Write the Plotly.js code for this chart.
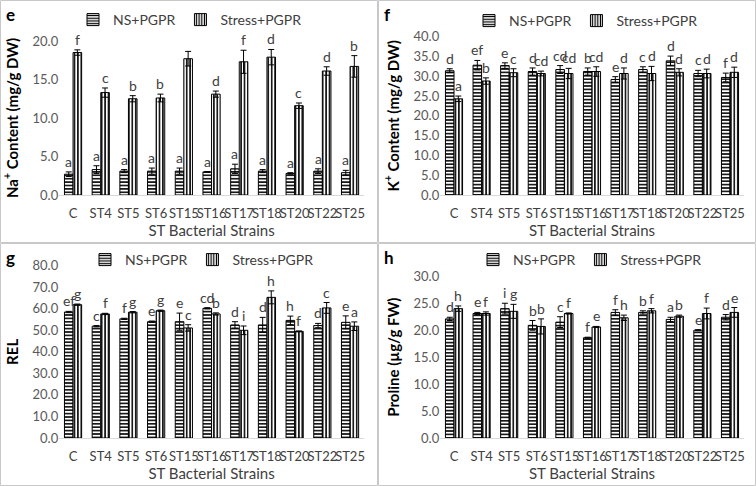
<!DOCTYPE html>
<html>
<head>
<meta charset="utf-8">
<script src="https://cdn.plot.ly/plotly-3.0.1.min.js"></script>
<style>html,body{margin:0;padding:0;background:#fff;}#chart{width:756px;height:486px;}</style>
</head>
<body>
<div id="chart"></div>
<script>
const cats = ['C','ST4','ST5','ST6','ST15','ST16','ST17','ST18','ST20','ST22','ST25'];
const seriesNames = ['NS+PGPR','Stress+PGPR'];

// Panel e: Na+ content
const naNS = [2.7,3.3,3.1,3.1,3.1,3.0,3.4,3.1,2.8,3.1,2.9];
const naNSErr = [0.3,0.5,0.2,0.4,0.4,0.05,0.6,0.2,0.1,0.3,0.3];
const naST = [18.5,13.3,12.5,12.6,17.7,13.1,17.3,17.9,11.6,16.1,16.7];
const naSTErr = [0.35,0.6,0.4,0.5,0.95,0.4,1.5,1.0,0.35,0.55,1.4];
const naNSLetters = ['a','a','a','a','a','a','a','a','a','a','a'];
const naSTLetters = ['f','c','b','b','','d','f','d','c','d','b'];

// Panel f: K+ content
const kNS = [31.4,32.8,32.7,31.2,31.7,31.2,29.2,31.7,33.9,30.7,29.7];
const kNSErr = [0.5,1.2,0.7,0.9,1.0,0.9,0.7,0.7,1.2,0.8,1.1];
const kST = [24.3,28.8,30.9,30.7,30.7,31.2,30.7,30.7,31.0,30.7,31.0];
const kSTErr = [0.7,0.8,1.0,0.6,1.3,1.2,1.4,1.8,0.9,1.1,1.3];
const kNSLetters = ['d','ef','e','d','cd','b','e','c','d','c','f'];
const kSTLetters = ['a','b','c','cd','cd','cd','d','d','d','d','d'];

// Panel g: REL
const relNS = [58.5,51.9,55.3,54.0,54.0,60.2,52.5,52.5,54.6,52.2,53.7];
const relNSErr = [0.3,0.3,0.3,0.3,4.0,0.3,1.5,3.5,2.0,1.0,3.0];
const relST = [61.9,57.6,58.4,59.1,51.1,57.6,50.0,65.3,49.5,60.4,51.9];
const relSTErr = [0.3,0.3,0.3,0.3,1.5,0.5,2.0,3.0,0.2,2.5,2.0];
const relNSLetters = ['ef','c','f','e','e','cd','d','d','h','d','e'];
const relSTLetters = ['g','f','g','g','c','b','i','h','f','c','a'];

// Panel h: Proline
const proNS = [22.1,23.1,24.0,20.9,21.5,18.6,23.3,23.3,22.0,20.0,22.4];
const proNSErr = [0.3,0.2,1.0,0.9,1.0,0.1,0.5,0.3,0.4,0.1,0.5];
const proST = [24.0,23.1,23.5,20.7,23.1,20.6,22.3,23.6,22.6,23.1,23.3];
const proSTErr = [0.5,0.3,1.3,1.4,0.1,0.1,0.5,0.4,0.2,1.0,0.9];
const proNSLetters = ['d','e','i','b','c','f','f','b','a','e','d'];
const proSTLetters = ['h','f','g','b','f','e','h','f','b','f','e'];

const W = 756, H = 486;
const px = v => v / W;
const py = v => 1 - v / H;
const FONT = 'Lato, "Open Sans", sans-serif';

const panels = [
  {tag:'e', ns:naNS, nsErr:naNSErr, st:naST, stErr:naSTErr, nsL:naNSLetters, stL:naSTLetters,
   title:'Na<sup>+</sup> Content (mg/g DW)', range:[0,20], dtick:5,
   xd:[59.2,363.9], yd:[195,41], legX:190, legY:20, box:[0,0,377,242]},
  {tag:'f', ns:kNS, nsErr:kNSErr, st:kST, stErr:kSTErr, nsL:kNSLetters, stL:kSTLetters,
   title:'K<sup>+</sup> Content (mg/g DW)', range:[0,40], dtick:5,
   xd:[440.2,743.8], yd:[195,36.7], legX:586, legY:21, box:[378,0,755,242]},
  {tag:'g', ns:relNS, nsErr:relNSErr, st:relST, stErr:relSTErr, nsL:relNSLetters, stL:relSTLetters,
   title:'REL', range:[0,80], dtick:10,
   xd:[59.2,363.9], yd:[438,265.7], legX:202, legY:260, box:[0,243,377,485]},
  {tag:'h', ns:proNS, nsErr:proNSErr, st:proST, stErr:proSTErr, nsL:proNSLetters, stL:proSTLetters,
   title:'Proline (µg/g FW)', range:[0,30], dtick:5,
   xd:[440.2,743.8], yd:[438,276.3], legX:590, legY:260, box:[378,243,755,485]}
];

const data = [];
const layout = {
  width: W, height: H,
  margin: {l:0, r:0, t:0, b:0},
  paper_bgcolor: '#fff', plot_bgcolor: 'rgba(0,0,0,0)',
  font: {family: FONT, color: '#404040'},
  barmode: 'group', bargap: 0.38, bargroupgap: 0,
  annotations: [], shapes: []
};

panels.forEach((p, i) => {
  const n = i + 1;
  const xa = n === 1 ? 'x' : 'x' + n;
  const ya = n === 1 ? 'y' : 'y' + n;
  const legName = n === 1 ? 'legend' : 'legend' + n;
  const mk = (vals, errs, shape, name) => ({
    type: 'bar', x: cats, y: vals, name: name,
    xaxis: xa, yaxis: ya, legend: legName,
    marker: {color: '#ffffff', line: {color: '#000', width: 1},
             pattern: {shape: shape, fgcolor: '#000', bgcolor: '#fff', size: 3.4, solidity: 0.45}},
    error_y: {type: 'data', array: errs, symmetric: true, color: '#000', thickness: 1, width: 3},
    hoverinfo: 'skip'
  });
  data.push(mk(p.ns, p.nsErr, '-', seriesNames[0]));
  data.push(mk(p.st, p.stErr, '|', seriesNames[1]));

  layout['xaxis' + (n === 1 ? '' : n)] = {
    domain: [px(p.xd[0]), px(p.xd[1])], anchor: ya,
    type: 'category', showline: true, linecolor: '#d9d9d9', linewidth: 1,
    ticks: '', showgrid: false, automargin: false, tickangle: 0, ticklabelstandoff: 6,
    tickfont: {size: 13, color: '#404040', family: FONT},
    title: {text: 'ST Bacterial Strains', font: {size: 15, color: '#404040', family: FONT}, standoff: 2}
  };
  layout['yaxis' + (n === 1 ? '' : n)] = {
    domain: [py(p.yd[0]), py(p.yd[1])], anchor: xa,
    range: p.range, dtick: p.dtick, tick0: 0, tickformat: '.1f',
    showline: false, showgrid: false, zeroline: false, ticks: '', automargin: false,
    tickfont: {size: 13, color: '#595959', family: FONT},
    title: {text: p.title, font: {size: 15, color: '#000', family: FONT, weight: 'bold'}, standoff: 10}
  };
  layout[legName] = {
    x: px(p.legX), y: py(p.legY), xanchor: 'center', yanchor: 'middle',
    orientation: 'h', bgcolor: 'rgba(0,0,0,0)', itemwidth: 30,
    font: {size: 14, color: '#404040', family: FONT}
  };

  layout.shapes.push({type: 'rect', xref: 'paper', yref: 'paper',
    x0: px(p.box[0] + 0.5), x1: px(p.box[2] + 0.5), y0: py(p.box[3] + 0.5), y1: py(p.box[1] + 0.5),
    line: {color: '#c8c8c8', width: 1}});
  layout.annotations.push({xref: 'paper', yref: 'paper', x: px(p.box[0] + 4), y: py(p.box[1] + 2),
    xanchor: 'left', yanchor: 'top', showarrow: false, text: '<b>' + p.tag + '</b>',
    font: {size: 17, color: '#000', family: FONT}});
  const addL = (vals, errs, lets, shift) => {
    cats.forEach((c, j) => {
      if (!lets[j]) return;
      layout.annotations.push({xref: xa, yref: ya, x: c, y: vals[j] + errs[j],
        xshift: shift, yshift: 0, yanchor: 'bottom', xanchor: 'center', showarrow: false,
        text: lets[j], font: {size: 14, color: '#404040', family: FONT}});
    });
  };
  addL(p.ns, p.nsErr, p.nsL, -4.3);
  addL(p.st, p.stErr, p.stL, 4.3);
});

Plotly.newPlot('chart', data, layout, {displayModeBar: false, staticPlot: true});
</script>
</body>
</html>
